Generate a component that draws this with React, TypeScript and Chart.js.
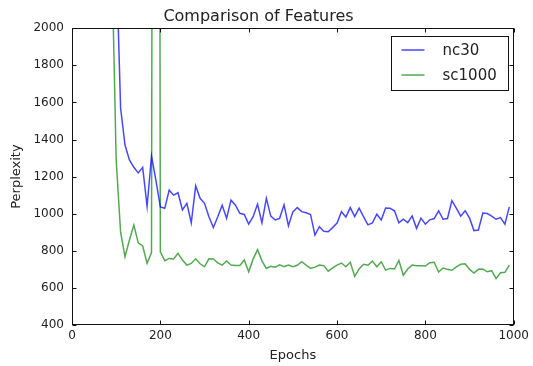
import React, { useEffect, useRef } from "react";
import { Chart, registerables } from "chart.js";

Chart.register(...registerables);

// ---- data ----
const epochs = [
  90, 100, 110, 120, 130, 140, 150, 160, 170, 180, 190,
  200, 210, 220, 230, 240, 250, 260, 270, 280, 290,
  300, 310, 320, 330, 340, 350, 360, 370, 380, 390,
  400, 410, 420, 430, 440, 450, 460, 470, 480, 490,
  500, 510, 520, 530, 540, 550, 560, 570, 580, 590,
  600, 610, 620, 630, 640, 650, 660, 670, 680, 690,
  700, 710, 720, 730, 740, 750, 760, 770, 780, 790,
  800, 810, 820, 830, 840, 850, 860, 870, 880, 890,
  900, 910, 920, 930, 940, 950, 960, 970, 980, 990,
];

const nc30 = [
  3000, 2400, 1570, 1370, 1290, 1250, 1220, 1250, 1040, 1310, 1180,
  1037, 1029, 1127, 1100, 1113, 1020, 1056, 951, 1150, 1083,
  1056, 984, 926, 984, 1046, 975, 1073, 1046, 1002, 996,
  944, 984, 1052, 951, 1083, 987, 966, 975, 1048, 935,
  1010, 1033, 1011, 1005, 996, 885, 930, 905, 903, 925,
  950, 1011, 982, 1033, 984, 1030, 984, 940, 950, 997,
  966, 1031, 1029, 1016, 951, 970, 952, 988, 921, 976,
  944, 967, 974, 1015, 970, 974, 1070, 1030, 987, 1016,
  976, 909, 912, 1004, 1001, 987, 970, 979, 944, 1037,
];

const sc1000 = [
  2400, 1290, 900, 768, 858, 939, 843, 826, 732, 790, 15000,
  795, 747, 759, 756, 786, 750, 723, 732, 757, 730,
  714, 757, 756, 735, 723, 745, 723, 721, 721, 750,
  687, 755, 806, 746, 705, 716, 712, 724, 714, 723,
  714, 722, 741, 723, 705, 712, 723, 720, 690, 708,
  723, 734, 714, 738, 662, 702, 727, 722, 745, 714,
  741, 696, 705, 702, 748, 668, 702, 723, 719, 720,
  718, 736, 738, 686, 707, 700, 695, 713, 727, 730,
  700, 680, 700, 702, 687, 693, 650, 682, 684, 723,
];

const seriesLabels = ["nc30", "sc1000"];
const seriesColors = ["rgba(0, 0, 255, 0.72)", "rgba(0, 128, 0, 0.68)"];

const xMin = 0;
const xMax = 1000;
const xStep = 200;
const yMin = 400;
const yMax = 2000;
const yStep = 200;

const chartTitle = "Comparison of Features";
const xTitle = "Epochs";
const yTitle = "Perplexity";

const FONT = "'DejaVu Sans', 'Bitstream Vera Sans', sans-serif";
const INK = "#222222";

// matplotlib-style frame with inward ticks on all four sides
const framePlugin = {
  id: "mplFrame",
  afterDatasetsDraw(chart: any) {
    const { ctx, chartArea, scales } = chart;
    const l = Math.round(chartArea.left) + 0.5;
    const r = Math.round(chartArea.right) - 0.5;
    const t = Math.round(chartArea.top) + 0.5;
    const b = Math.round(chartArea.bottom) - 0.5;
    const tl = 4;
    ctx.save();
    ctx.strokeStyle = "#111";
    ctx.lineWidth = 1;
    ctx.strokeRect(l, t, r - l, b - t);
    ctx.beginPath();
    scales.x.ticks.forEach((tk: any) => {
      const px = Math.round(scales.x.getPixelForValue(tk.value)) + 0.5;
      ctx.moveTo(px, b);
      ctx.lineTo(px, b - tl);
      ctx.moveTo(px, t);
      ctx.lineTo(px, t + tl);
    });
    scales.y.ticks.forEach((tk: any) => {
      const py = Math.round(scales.y.getPixelForValue(tk.value)) + 0.5;
      ctx.moveTo(l, py);
      ctx.lineTo(l + tl, py);
      ctx.moveTo(r, py);
      ctx.lineTo(r - tl, py);
    });
    ctx.stroke();
    ctx.restore();
  },
};

// matplotlib-style boxed legend in the upper right corner
const legendPlugin = {
  id: "mplLegend",
  afterDraw(chart: any) {
    const { ctx, chartArea } = chart;
    const w = 117;
    const h = 54;
    const x0 = Math.round(chartArea.right - 6 - w) + 0.5;
    const y0 = Math.round(chartArea.top + 8) + 0.5;
    ctx.save();
    ctx.fillStyle = "#ffffff";
    ctx.fillRect(x0, y0, w, h);
    ctx.strokeStyle = "#111";
    ctx.lineWidth = 1;
    ctx.strokeRect(x0, y0, w, h);
    ctx.font = `15px ${FONT}`;
    ctx.textBaseline = "middle";
    ctx.textAlign = "left";
    chart.data.datasets.forEach((ds: any, i: number) => {
      const cy = y0 + 13.5 + i * 25;
      ctx.strokeStyle = ds.borderColor;
      ctx.lineWidth = 1.5;
      ctx.beginPath();
      ctx.moveTo(x0 + 10, cy);
      ctx.lineTo(x0 + 33, cy);
      ctx.stroke();
      ctx.fillStyle = INK;
      ctx.fillText(ds.label, x0 + 51, cy + 1);
    });
    ctx.restore();
  },
};

const plainTick = (v: any) => String(v);

export default function App() {
  const canvasRef = useRef<HTMLCanvasElement | null>(null);

  useEffect(() => {
    if (!canvasRef.current) return;
    const series = [nc30, sc1000];
    const chart = new Chart(canvasRef.current, {
      type: "line",
      data: {
        datasets: series.map((vals, i) => ({
          label: seriesLabels[i],
          data: epochs.map((e, j) => ({ x: e, y: vals[j] })),
          borderColor: seriesColors[i],
          backgroundColor: seriesColors[i],
          borderWidth: 1.5,
          pointRadius: 0,
          tension: 0,
          fill: false,
          clip: 0,
        })),
      },
      options: {
        responsive: false,
        animation: false,
        events: [],
        layout: { padding: { left: 0, right: 16, top: 0, bottom: 0 } },
        plugins: {
          legend: { display: false },
          tooltip: { enabled: false },
          title: {
            display: true,
            text: chartTitle,
            color: INK,
            font: { family: FONT, size: 16, weight: "normal" },
            padding: { top: 7, bottom: 2 },
          },
        },
        scales: {
          x: {
            type: "linear",
            min: xMin,
            max: xMax,
            grid: { display: false, drawTicks: false },
            border: { display: false },
            ticks: {
              stepSize: xStep,
              color: INK,
              padding: 4,
              maxRotation: 0,
              font: { family: FONT, size: 12 },
              callback: plainTick,
            },
            title: {
              display: true,
              text: xTitle,
              color: INK,
              font: { family: FONT, size: 13 },
              padding: { top: 0, bottom: 3 },
            },
            afterFit: (s: any) => {
              s.height = 41;
            },
          },
          y: {
            type: "linear",
            min: yMin,
            max: yMax,
            grid: { display: false, drawTicks: false },
            border: { display: false },
            ticks: {
              stepSize: yStep,
              color: INK,
              padding: 8,
              font: { family: FONT, size: 12 },
              callback: plainTick,
            },
            title: {
              display: true,
              text: yTitle,
              color: INK,
              font: { family: FONT, size: 13 },
              padding: { top: 9, bottom: 0 },
            },
            afterFit: (s: any) => {
              s.width = 72;
            },
          },
        },
      },
      plugins: [framePlugin, legendPlugin],
    });
    return () => chart.destroy();
  }, []);

  return (
    <div style={{ position: "absolute", left: 0, top: 0, width: 533, height: 366, background: "#fff" }}>
      <canvas ref={canvasRef} width={533} height={366} />
    </div>
  );
}
